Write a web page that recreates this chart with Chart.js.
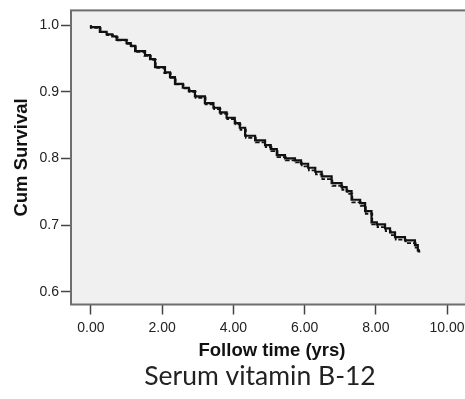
<!DOCTYPE html>
<html>
<head>
<meta charset="utf-8">
<script src="https://cdn.jsdelivr.net/npm/chart.js@4"></script>
<style>
  html, body { margin: 0; padding: 0; background: #fff; overflow: hidden; }
  canvas { display: block; }
</style>
</head>
<body>
<canvas id="km-chart" width="520" height="399"></canvas>
<script>
// Kaplan-Meier curves, values
const timesA = [0.00, 0.25, 0.44, 0.60, 0.72, 1.00, 1.12, 1.24, 1.52, 1.66, 1.80, 2.08, 2.22, 2.36, 2.58, 2.75, 2.92, 3.20, 3.44, 3.62, 3.81, 4.04, 4.18, 4.33, 4.61, 4.89, 5.05, 5.22, 5.45, 5.73, 5.90, 6.10, 6.30, 6.48, 6.76, 7.04, 7.18, 7.32, 7.56, 7.70, 7.88, 8.03, 8.26, 8.40, 8.54, 8.82, 9.10, 9.18, 9.24];
const survA  = [1.000, 0.997, 0.990, 0.986, 0.983, 0.978, 0.973, 0.969, 0.961, 0.955, 0.949, 0.937, 0.929, 0.922, 0.912, 0.906, 0.901, 0.893, 0.883, 0.876, 0.869, 0.861, 0.853, 0.846, 0.834, 0.827, 0.820, 0.814, 0.805, 0.800, 0.797, 0.792, 0.786, 0.780, 0.773, 0.763, 0.757, 0.751, 0.738, 0.733, 0.721, 0.704, 0.701, 0.695, 0.689, 0.682, 0.677, 0.670, 0.662];

const timesB = [0.00, 0.27, 0.46, 0.62, 0.75, 1.02, 1.14, 1.26, 1.50, 1.68, 1.82, 2.06, 2.24, 2.38, 2.60, 2.77, 2.94, 3.22, 3.46, 3.64, 3.83, 4.06, 4.20, 4.35, 4.63, 4.91, 5.07, 5.24, 5.47, 5.75, 5.92, 6.12, 6.32, 6.50, 6.78, 7.06, 7.20, 7.34, 7.58, 7.72, 7.90, 8.05, 8.28, 8.42, 8.56, 8.84, 9.12, 9.20, 9.25];
const survB  = [1.000, 0.996, 0.990, 0.985, 0.982, 0.977, 0.972, 0.968, 0.960, 0.954, 0.948, 0.936, 0.928, 0.921, 0.911, 0.905, 0.900, 0.891, 0.881, 0.874, 0.867, 0.859, 0.851, 0.843, 0.831, 0.824, 0.817, 0.811, 0.802, 0.797, 0.794, 0.788, 0.782, 0.776, 0.769, 0.759, 0.753, 0.747, 0.734, 0.729, 0.717, 0.701, 0.697, 0.691, 0.685, 0.678, 0.673, 0.666, 0.660];

const xTicks = [0, 2, 4, 6, 8, 10];
const yTicks = [0.6, 0.7, 0.8, 0.9, 1.0];

const toPoints = (xs, ys) => xs.map((x, i) => ({ x, y: ys[i] }));

// grey plot background + frame
const plotFrame = {
  id: 'plotFrame',
  beforeDatasetsDraw(chart) {
    const { ctx, chartArea: a } = chart;
    ctx.save();
    ctx.fillStyle = '#f0f0f0';
    ctx.fillRect(a.left, a.top, a.right - a.left, a.bottom - a.top);
    ctx.restore();
  },
  afterDatasetsDraw(chart) {
    const { ctx, chartArea: a } = chart;
    ctx.save();
    ctx.strokeStyle = '#6e6e6e';
    ctx.lineWidth = 2;
    ctx.strokeRect(a.left, a.top, a.right - a.left, a.bottom - a.top);
    ctx.restore();
  },
};

const tickFont = { family: 'Liberation Sans', size: 14 };
const titleFont = { family: 'Liberation Sans', size: 18.5, weight: 'bold' };

new Chart(document.getElementById('km-chart'), {
  type: 'line',
  data: {
    datasets: [
      {
        data: toPoints(timesA, survA),
        borderColor: '#111',
        borderWidth: 2.2,
        stepped: 'after',
        pointRadius: 0,
        fill: false,
      },
      {
        data: toPoints(timesB, survB),
        borderColor: '#111',
        borderWidth: 1.8,
        borderDash: [4, 2],
        stepped: 'after',
        pointRadius: 0,
        fill: false,
      },
    ],
  },
  options: {
    responsive: false,
    animation: false,
    layout: { padding: { top: 6, right: 0, left: 0, bottom: 0 } },
    plugins: {
      legend: { display: false },
      tooltip: { enabled: false },
      title: {
        display: true,
        position: 'bottom',
        text: 'Serum vitamin B-12',
        color: '#222',
        font: { family: 'Lato', size: 26.5, weight: 'normal', lineHeight: 1 },
        padding: { top: 1, bottom: 9 },
      },
    },
    scales: {
      x: {
        type: 'linear',
        min: -0.56,
        max: 10.73,
        afterBuildTicks: s => { s.ticks = xTicks.map(v => ({ value: v })); },
        afterFit: s => { s.height = 58; },
        ticks: {
          callback: v => v.toFixed(2),
          color: '#222',
          font: tickFont,
          padding: 5,
          maxRotation: 0,
        },
        grid: { drawOnChartArea: false, tickLength: 10, color: '#444', tickWidth: 1.5 },
        border: { display: false },
        title: {
          display: true,
          text: 'Follow time (yrs)',
          color: '#111',
          font: titleFont,
          padding: { top: 0, bottom: 0 },
        },
      },
      y: {
        min: 0.5808,
        max: 1.0221,
        afterBuildTicks: s => { s.ticks = yTicks.map(v => ({ value: v })); },
        afterFit: s => { s.width = 71; },
        ticks: {
          callback: v => v.toFixed(1),
          color: '#222',
          font: tickFont,
          padding: 2,
        },
        grid: { drawOnChartArea: false, tickLength: 10, color: '#444', tickWidth: 1.5 },
        border: { display: false },
        title: {
          display: true,
          text: 'Cum Survival',
          color: '#111',
          font: titleFont,
          padding: { top: 11, bottom: 0 },
        },
      },
      // empty right-hand spacer so the plot runs past the window edge
      spacer: {
        position: 'right',
        min: 0,
        max: 1,
        afterFit: s => { s.width = 47; },
        ticks: { display: false },
        grid: { display: false },
        border: { display: false },
      },
    },
  },
  plugins: [plotFrame],
});
</script>
</body>
</html>
